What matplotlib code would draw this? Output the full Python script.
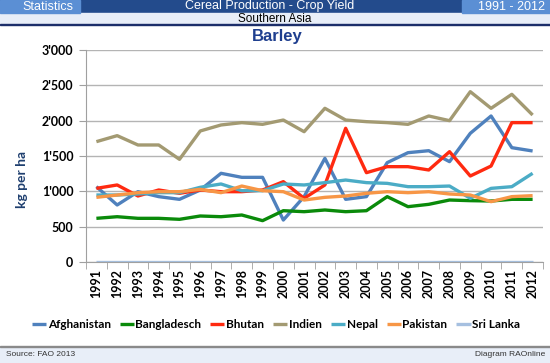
import numpy as np
import matplotlib.pyplot as plt
from matplotlib.patches import Rectangle
from matplotlib.ticker import FuncFormatter

years = [str(y) for y in range(1991, 2013)]

afghanistan = [1066, 807, 995, 925, 887, 1019, 1255, 1198, 1198, 594, 925, 1467,
               887, 925, 1406, 1547, 1575, 1420, 1821, 2066, 1618, 1571]
bangladesch = [618, 641, 618, 618, 604, 651, 641, 665, 585, 726, 712, 736,
               712, 726, 925, 783, 816, 877, 868, 863, 887, 887]
bhutan = [1042, 1090, 934, 1019, 972, 1019, 995, 995, 1019, 1137, 901, 1090,
          1892, 1264, 1349, 1349, 1302, 1561, 1217, 1358, 1972, 1972]
indien = [1703, 1788, 1656, 1656, 1453, 1854, 1939, 1972, 1948, 2009, 1844, 2175,
          2009, 1986, 1972, 1948, 2066, 2000, 2410, 2175, 2373, 2080]
nepal = [948, 948, 962, 981, 981, 1057, 1104, 1009, 1009, 1104, 1090, 1123,
         1160, 1123, 1113, 1066, 1066, 1075, 901, 1042, 1066, 1255]
pakistan = [915, 948, 981, 995, 995, 1028, 981, 1075, 1009, 995, 877, 915,
            934, 972, 995, 981, 995, 962, 948, 854, 925, 939]
sri_lanka = [0] * 22

series = [
    ('Afghanistan', afghanistan, '#4f81bd'),
    ('Bangladesch', bangladesch, '#0a8a0a'),
    ('Bhutan', bhutan, '#ff2a10'),
    ('Indien', indien, '#a39a72'),
    ('Nepal', nepal, '#4bacc6'),
    ('Pakistan', pakistan, '#f79646'),
    ('Sri Lanka', sri_lanka, '#a6c0e0'),
]

W, H = 550, 363
fig = plt.figure(figsize=(5.5, 3.63), dpi=100)


def fx(px):
    return px / W


def fy(py):
    return 1 - py / H


# header and footer bands
fig.patches.append(Rectangle((0, fy(13)), 1, 13 / H, transform=fig.transFigure,
                             color='#234b8c', zorder=0))
fig.patches.append(Rectangle((0, fy(13)), fx(80), 13 / H, transform=fig.transFigure,
                             color='#5b8fd4', zorder=1))
fig.patches.append(Rectangle((fx(462), fy(13)), fx(88), 13 / H, transform=fig.transFigure,
                             color='#5b8fd4', zorder=1))
fig.patches.append(Rectangle((0, fy(24)), 1, 11 / H, transform=fig.transFigure,
                             color='#e8eef8', zorder=0))
fig.patches.append(Rectangle((0, fy(25)), 1, 1.2 / H, transform=fig.transFigure,
                             color='#1c2e6a', zorder=1))
fig.patches.append(Rectangle((0, 0), 1, 16 / H, transform=fig.transFigure,
                             color='#e8eef8', zorder=0))
fig.patches.append(Rectangle((0, 16 / H), 1, 1.2 / H, transform=fig.transFigure,
                             color='#8a8a8a', zorder=1))

hfont = dict(family='Liberation Sans', fontsize=9, color='white', va='center')
fig.text(fx(22), fy(6.5), 'Statistics', ha='left', **hfont)
fig.text(fx(270), fy(6.5), 'Cereal Production - Crop Yield', ha='center', **hfont)
fig.text(fx(545), fy(6.5), '1991 - 2012', ha='right', **hfont)
fig.text(fx(275), fy(18.5), 'Southern Asia', ha='center', va='center',
         family='Liberation Sans', fontsize=8.5, color='black')
fig.text(fx(277), fy(37), 'Barley', ha='center', va='center', family='Liberation Sans',
         fontsize=12, fontweight='bold', color='#1f3f8f')
fig.text(fx(6), fy(355), 'Source: FAO 2013', ha='left', va='center',
         family='Liberation Sans', fontsize=6, color='#333333')
fig.text(fx(545), fy(355), 'Diagram RAOnline', ha='right', va='center',
         family='Liberation Sans', fontsize=6, color='#333333')

ax = fig.add_axes([fx(86), fy(262), fx(457), 212 / H])
x = np.arange(len(years))
for name, vals, col in series:
    ax.plot(x, vals, color=col, linewidth=2.4, label=name, solid_capstyle='butt')

ax.set_xlim(-0.5, len(years) - 0.5)
ax.set_ylim(0, 3000)
ax.set_yticks(range(0, 3001, 500))
ax.yaxis.set_major_formatter(FuncFormatter(lambda v, p: f'{int(v):,}'.replace(',', "'")))
ax.set_xticks(x)
ax.set_xticklabels(years, rotation=90)
ax.set_xticks(np.arange(-0.5, len(years)), minor=True)
ax.tick_params(axis='x', which='major', length=0, pad=5)
ax.tick_params(axis='x', which='minor', length=5, color='#a0a0a0')
ax.tick_params(axis='y', length=5, color='#a0a0a0', pad=4)
for lab in ax.get_xticklabels() + ax.get_yticklabels():
    lab.set_fontfamily('Lato')
    lab.set_fontweight('bold')
    lab.set_fontsize(9)
ax.grid(axis='y', color='#b4b4b4', linewidth=1)
ax.set_axisbelow(True)
for s in ['top', 'right']:
    ax.spines[s].set_visible(False)
ax.spines['left'].set_color('#a0a0a0')
ax.spines['bottom'].set_color('#a0a0a0')
ax.set_ylabel('kg per ha', family='Lato', fontweight='bold', fontsize=10,
              color='#1f3f6f')
ax.yaxis.set_label_coords(-0.128, 0.39)

fig.legend(loc='center', bbox_to_anchor=(fx(276), fy(325)), ncol=7, frameon=False,
           prop={'family': 'Lato', 'weight': 'bold', 'size': 8.5},
           handlelength=1.2, handletextpad=0.15, columnspacing=0.75)

plt.savefig('out.png', dpi=100)
